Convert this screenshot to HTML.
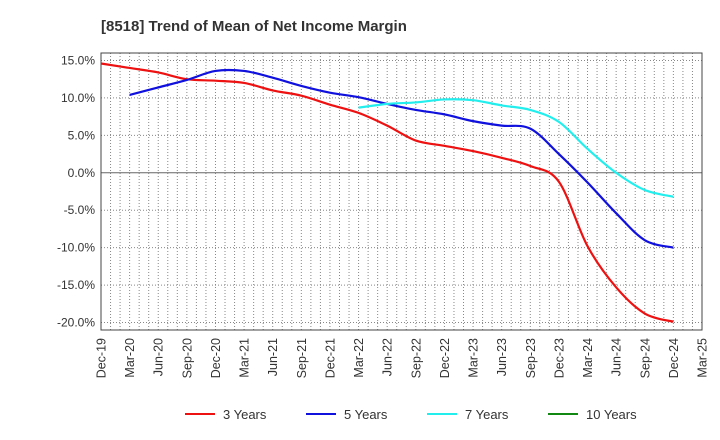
<!DOCTYPE html>
<html><head><meta charset="utf-8"><style>
body{margin:0;background:#fff;font-family:"Liberation Sans",sans-serif}
svg{display:block}
</style></head><body>
<svg id="c" width="720" height="440" xmlns="http://www.w3.org/2000/svg">
<text x="101" y="31" font-size="15" font-weight="bold" fill="#333">[8518]  Trend of Mean of Net Income Margin</text>
<g id="grid"></g><g id="axes"></g><g id="series"></g><g id="legend"></g>
</svg>
<script>
const xLabels=["Dec-19","Mar-20","Jun-20","Sep-20","Dec-20","Mar-21","Jun-21","Sep-21","Dec-21","Mar-22","Jun-22","Sep-22","Dec-22","Mar-23","Jun-23","Sep-23","Dec-23","Mar-24","Jun-24","Sep-24","Dec-24","Mar-25"];
const yTicks=[15,10,5,0,-5,-10,-15,-20];
const red3=[14.6,14.0,13.4,12.5,12.3,12.0,11.0,10.3,9.1,8.0,6.3,4.3,3.6,2.9,2.0,0.9,-1.2,-9.8,-15.3,-18.8,-19.9];
const blue5=[null,10.4,11.4,12.4,13.6,13.6,12.7,11.6,10.7,10.1,9.2,8.4,7.8,6.9,6.3,5.9,2.5,-1.3,-5.4,-9.0,-10.0];
const cyan7=[null,null,null,null,null,null,null,null,null,8.7,9.2,9.4,9.8,9.7,9.0,8.4,6.8,3.2,0.0,-2.3,-3.2];
const green10=[];
const L=101,R=702,T=53,B=330,yMin=-21,yMax=16;
const NS="http://www.w3.org/2000/svg";
const xs=i=>L+i*(R-L)/21;
const ys=v=>B-(v-yMin)/(yMax-yMin)*(B-T);
function mk(tag,attrs,parent){const e=document.createElementNS(NS,tag);for(const k in attrs)e.setAttribute(k,attrs[k]);document.getElementById(parent).appendChild(e);return e;}
for(let m=1;m<63;m++){const x=L+m*(R-L)/63;
 const g=mk('line',{x1:x,x2:x,y1:T,y2:B,stroke:'#888','stroke-dasharray':'1,2','stroke-width':1},'grid');
 
 }
yTicks.forEach(v=>{const y=ys(v);
 const g=mk('line',{x1:L,x2:R,y1:y,y2:y,stroke:v===0?'#666':'#888','stroke-dasharray':v===0?'':'1,2','stroke-width':1},'grid');
 
 
 const t=mk('text',{x:L-6,y:y+4,'text-anchor':'end','font-size':12,fill:'#333'},'axes');
 t.textContent=v.toFixed(1)+'%';
 
 });
const fr=mk('rect',{x:L,y:T,width:R-L,height:B-T,fill:'none',stroke:'#444','stroke-width':1},'axes');


xLabels.forEach((s,i)=>{const x=xs(i);
 const t=mk('text',{x:0,y:0,'text-anchor':'end','font-size':12.5,fill:'#333',transform:`translate(${x+4.5},${B+8}) rotate(-90)`},'axes');
 t.textContent=s;
 
 });
function path(arr){const p=[];arr.forEach((v,i)=>{if(v!==null&&v!==undefined)p.push([xs(i),ys(v)]);});
 if(p.length<2)return '';let d=`M${p[0][0]},${p[0][1]}`;
 for(let i=0;i<p.length-1;i++){const p0=p[i-1]||p[i],p1=p[i],p2=p[i+1],p3=p[i+2]||p2;
  d+=` C${p1[0]+(p2[0]-p0[0])/6},${p1[1]+(p2[1]-p0[1])/6} ${p2[0]-(p3[0]-p1[0])/6},${p2[1]-(p3[1]-p1[1])/6} ${p2[0]},${p2[1]}`;}
 return d;}
[[red3,'#ee1111','line-3-years'],[blue5,'#1111dd','line-5-years'],[cyan7,'#22eeee','line-7-years'],[green10,'#118811','line-10-years']].forEach(([a,c,n])=>{
 const d=path(a);if(!d)return;
 const e=mk('path',{d:d,fill:'none',stroke:c,'stroke-width':2.2},'series');
 
 });
[['3 Years','#ee1111',185],['5 Years','#1111dd',306],['7 Years','#22eeee',427],['10 Years','#118811',548]].forEach(([s,c,x])=>{
 const l=mk('line',{x1:x,x2:x+30,y1:414,y2:414,stroke:c,'stroke-width':2},'legend');
 
 
 const t=mk('text',{x:x+38,y:419,'font-size':13,fill:'#333'},'legend');
 t.textContent=s;
 
 });
</script>
</body></html>
